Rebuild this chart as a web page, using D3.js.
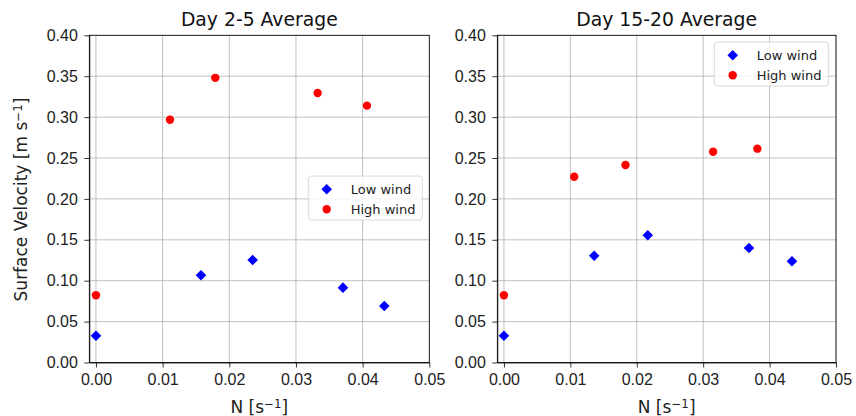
<!DOCTYPE html>
<meta charset="utf-8">
<style>
body { margin: 0; background: #fff; }
svg { font-family: "DejaVu Sans", sans-serif; }
.grid line { stroke: #b0b0b0; stroke-width: 0.8px; }
.axis path, .axis line { stroke: #000; stroke-width: 0.8px; }
.axis text { fill: #222; font-size: 16px; }
</style>
<body>
<script src="https://cdn.jsdelivr.net/npm/d3@7"></script>
<script>

// Day 2-5 average
var nLowA  = [0, 0.01575, 0.0235, 0.03705, 0.04325],
    vLowA  = [0.0328, 0.1066, 0.1253, 0.0915, 0.069],
    nHighA = [0, 0.0111, 0.0179, 0.03325, 0.04065],
    vHighA = [0.0822, 0.2968, 0.348, 0.3295, 0.314];

// Day 15-20 average
var nLowB  = [0, 0.01359, 0.02166, 0.0369, 0.04337],
    vLowB  = [0.0328, 0.1306, 0.1555, 0.14, 0.1237],
    nHighB = [0, 0.01058, 0.0183, 0.0315, 0.03816],
    vHighB = [0.0822, 0.2271, 0.2414, 0.2577, 0.2614];

var xTicks = [0, 0.01, 0.02, 0.03, 0.04, 0.05],
    yTicks = [0, 0.05, 0.10, 0.15, 0.20, 0.25, 0.30, 0.35, 0.40];
var titles = ["Day 2-5 Average", "Day 15-20 Average"];
var seriesNames = ["Low wind", "High wind"];

var svg = d3.select("body").append("svg")
    .attr("width", 856)
    .attr("height", 416);

var panels = [
  { x0: 89.3, x1: 429.3, title: titles[0], low: [nLowA, vLowA], high: [nHighA, vHighA], leg: [308.3, 176], ylabel: true },
  { x0: 497.3, x1: 836, title: titles[1], low: [nLowB, vLowB], high: [nHighB, vHighB], leg: [714.3, 42], ylabel: false }
];
var yTop = 35.3, yBottom = 362.5;

var diamond = d3.symbol().type(d3.symbolSquare).size(56);

panels.forEach(function(p) {
  var x = d3.scaleLinear().domain([-0.001, 0.05]).range([p.x0, p.x1]);
  var y = d3.scaleLinear().domain([0, 0.40]).range([yBottom, yTop]);
  var g = svg.append("g");

  // grid
  var grid = g.append("g").attr("class", "grid");
  grid.selectAll(".gx").data(xTicks).enter().append("line")
      .attr("x1", d => x(d)).attr("x2", d => x(d))
      .attr("y1", yTop).attr("y2", yBottom);
  grid.selectAll(".gy").data(yTicks).enter().append("line")
      .attr("x1", p.x0).attr("x2", p.x1)
      .attr("y1", d => y(d)).attr("y2", d => y(d));

  // markers
  g.selectAll(".low").data(p.low[0]).enter().append("path")
      .attr("d", diamond)
      .attr("transform", (d, i) => "translate(" + x(d) + "," + y(p.low[1][i]) + ") rotate(45)")
      .attr("fill", "#0000ff");
  g.selectAll(".high").data(p.high[0]).enter().append("circle")
      .attr("cx", d => x(d)).attr("cy", (d, i) => y(p.high[1][i]))
      .attr("r", 4.2)
      .attr("fill", "#ff0000");

  // axes
  g.append("g").attr("class", "axis")
      .attr("transform", "translate(0," + yBottom + ")")
      .call(d3.axisBottom(x).tickValues(xTicks).tickFormat(d3.format(".2f")).tickSize(5).tickSizeOuter(0).tickPadding(6.5));
  g.append("g").attr("class", "axis")
      .attr("transform", "translate(" + p.x0 + ",0)")
      .call(d3.axisLeft(y).tickValues(yTicks).tickFormat(d3.format(".2f")).tickSize(5).tickSizeOuter(0).tickPadding(6.5));
  g.append("rect")
      .attr("x", p.x0).attr("y", yTop)
      .attr("width", p.x1 - p.x0).attr("height", yBottom - yTop)
      .attr("fill", "none").attr("stroke", "#000").attr("stroke-width", 0.8);

  // title
  g.append("text")
      .attr("x", (p.x0 + p.x1) / 2).attr("y", 26)
      .attr("text-anchor", "middle")
      .attr("font-size", 18.8).attr("fill", "#111")
      .text(p.title);

  // x label
  var xl = g.append("text")
      .attr("x", (p.x0 + p.x1) / 2).attr("y", 413)
      .attr("text-anchor", "middle")
      .attr("font-size", 17).attr("fill", "#222");
  xl.append("tspan").text("N [s");
  xl.append("tspan").attr("dy", "-0.45em").attr("font-size", "0.7em").text("\u22121");
  xl.append("tspan").attr("dy", "0.315em").text("]");

  if (p.ylabel) {
    var yl = g.append("text")
        .attr("transform", "translate(27," + 199.5 + ") rotate(-90)")
        .attr("text-anchor", "middle")
        .attr("font-size", 17).attr("fill", "#222");
    yl.append("tspan").text("Surface Velocity [m s");
    yl.append("tspan").attr("dy", "-0.45em").attr("font-size", "0.7em").text("\u22121");
    yl.append("tspan").attr("dy", "0.315em").text("]");
  }

  // legend
  var lg = g.append("g").attr("transform", "translate(" + p.leg[0] + "," + p.leg[1] + ")");
  lg.append("rect")
      .attr("width", 114).attr("height", 44)
      .attr("rx", 3)
      .attr("fill", "#fff").attr("fill-opacity", 0.8)
      .attr("stroke", "#d0d0d0").attr("stroke-width", 0.8);
  lg.append("path")
      .attr("d", diamond)
      .attr("transform", "translate(18.4,13.3) rotate(45)")
      .attr("fill", "#0000ff");
  lg.append("circle")
      .attr("cx", 18.4).attr("cy", 33.3).attr("r", 4.2)
      .attr("fill", "#ff0000");
  lg.selectAll(".lt").data(seriesNames).enter().append("text")
      .attr("x", 42.4).attr("y", (d, i) => 13.3 + i * 20)
      .attr("dy", "0.35em")
      .attr("font-size", 13).attr("fill", "#222")
      .text(d => d);
});

</script>
</body>
